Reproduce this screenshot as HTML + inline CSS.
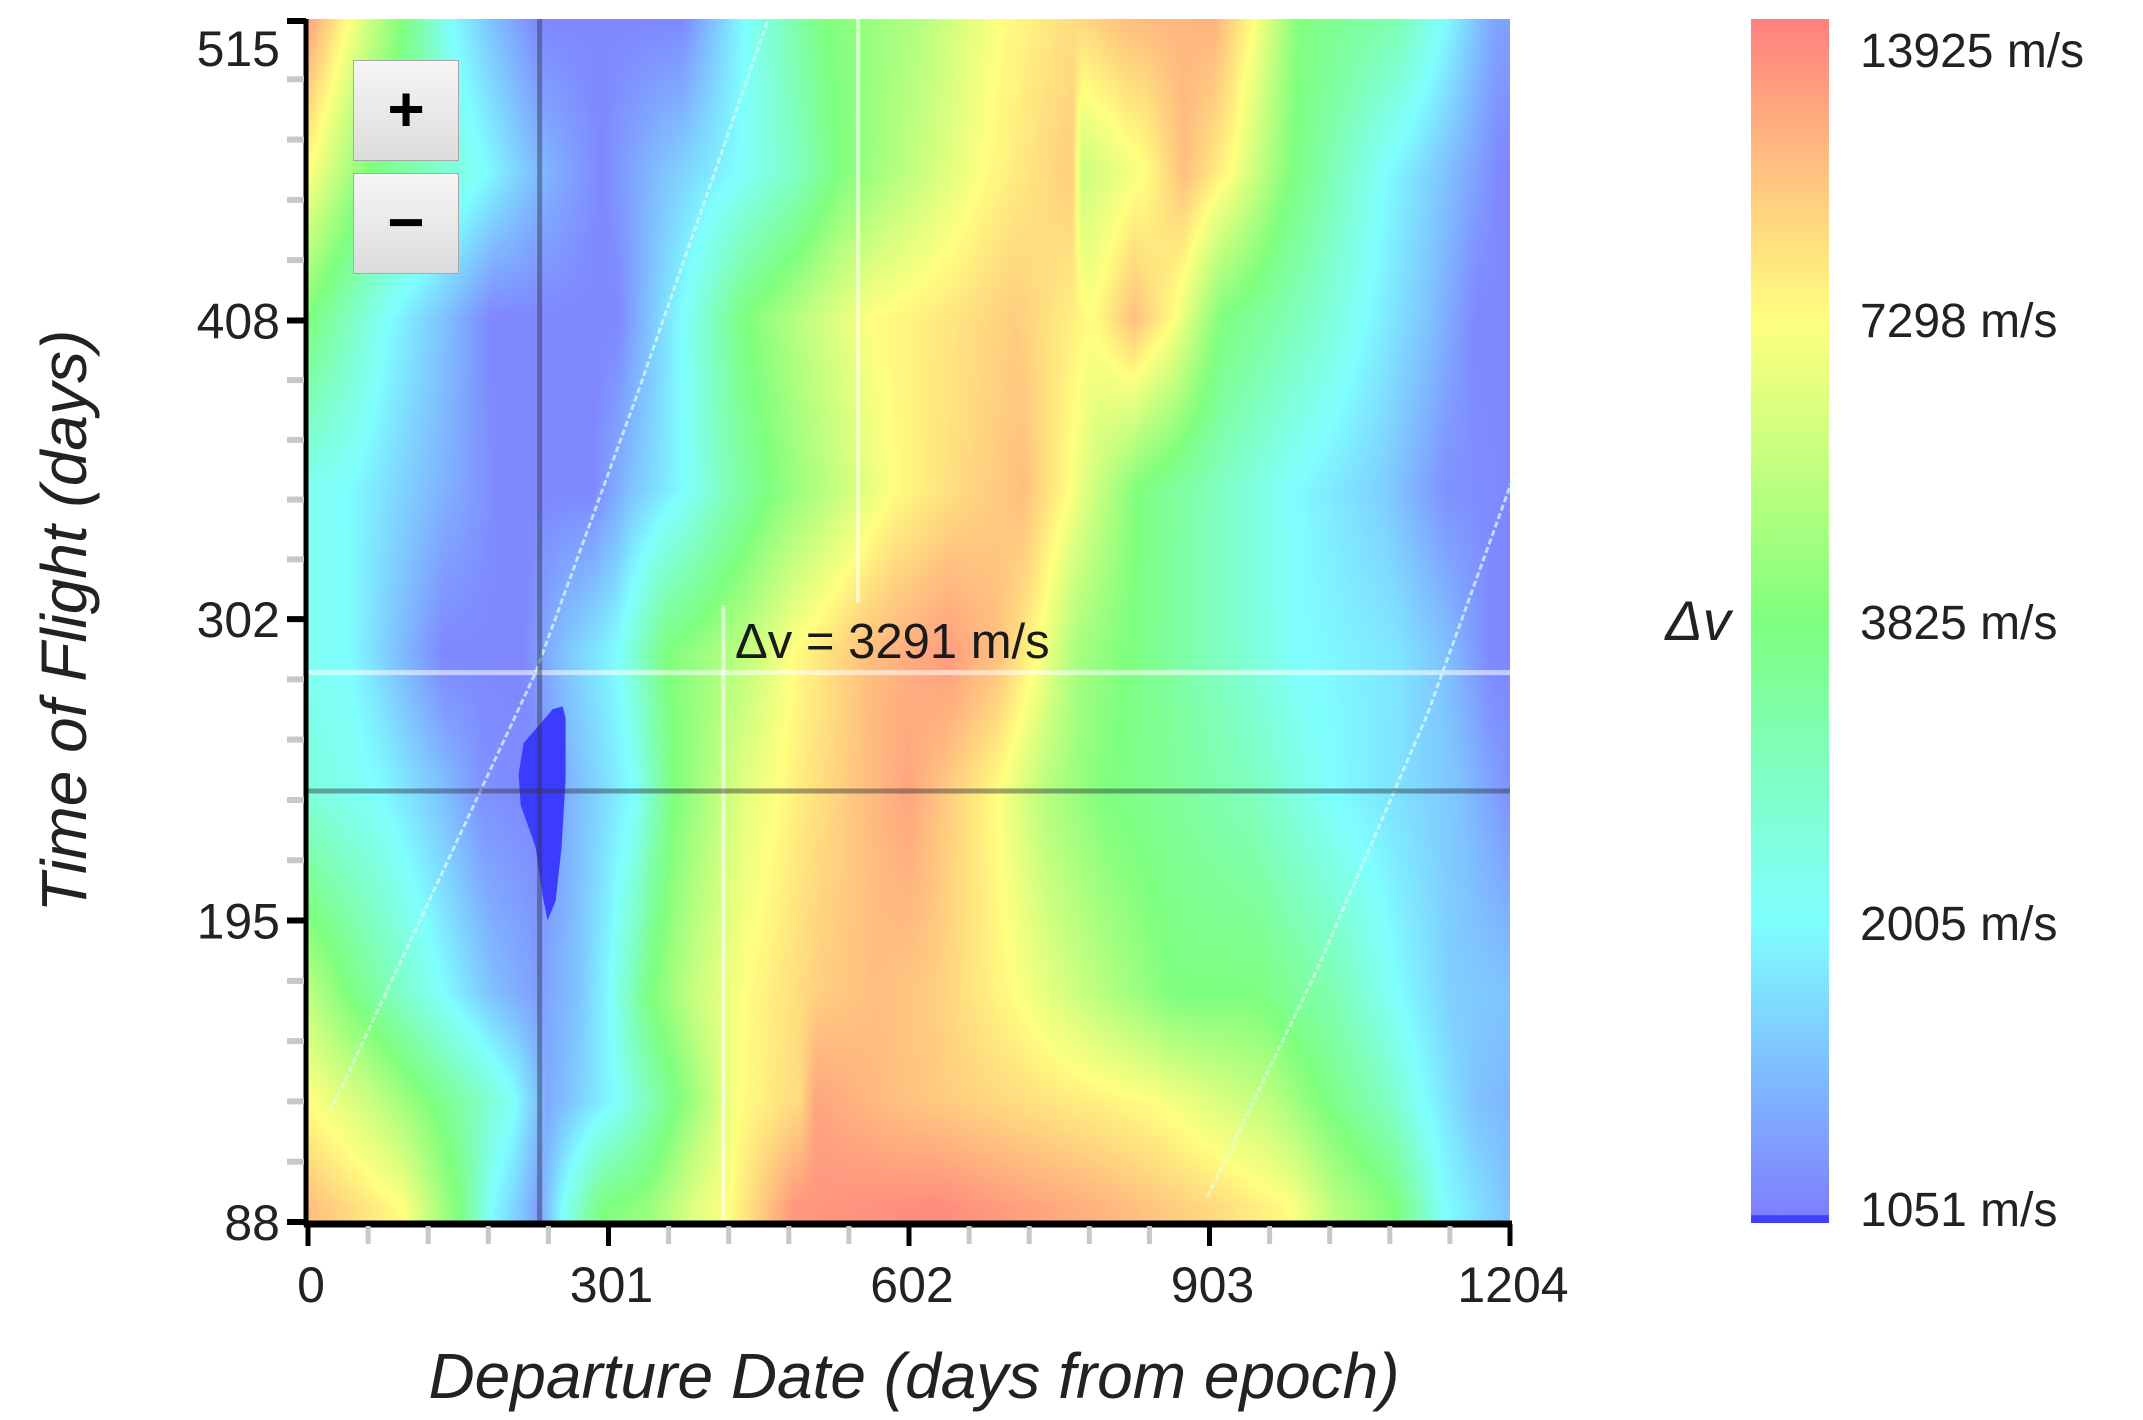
<!DOCTYPE html>
<html><head><meta charset="utf-8"><style>
html,body{margin:0;padding:0;background:#fff;}
#wrap{position:relative;width:2143px;height:1420px;overflow:hidden;font-family:"Liberation Sans",sans-serif;}
#heat{position:absolute;left:308px;top:19px;}
svg{position:absolute;left:0;top:0;}
.zbtn{position:absolute;left:353px;width:106px;height:101px;box-sizing:border-box;border:1.5px solid #a8a8a8;background:linear-gradient(#f6f6f6,#dcdcdc);font:bold 64px "Liberation Sans",sans-serif;color:#000;text-align:center;line-height:96px;}
#cbar{position:absolute;left:1751px;top:19px;width:78px;height:1204px;background:linear-gradient(to bottom,#ff7f7f 0%,#ffbf7f 12%,#ffff7f 25%,#bfff7f 38%,#7fff7f 50%,#7fffbf 62%,#7fffff 75%,#7fbfff 87%,#7f7fff 99.3%,#4040ff 99.4%,#4040ff 100%);}
</style></head><body>
<div id="wrap">
<canvas id="heat" width="1202" height="1203"></canvas>
<svg id="ov" width="2143" height="1420"></svg>
<div class="zbtn" style="top:60px">+</div>
<div class="zbtn" style="top:173px">−</div>
<div id="cbar"></div>
</div>
<script>
// ---- data ----
const tofRows = [515, 461, 409, 348, 290, 239, 169, 131, 93];
const dep515 = [0,40,95,143,183,230,374,437,517,612,692,772,819,907,947,994,1090,1138,1185,1204];
const dv515  = [11490,7298,3825,2005,1480,1100,1100,2005,3825,5000,7298,8810,10080,10760,7298,3825,2960,2005,1300,1230];
const dep461 = [0,62,177,223,293,354,431,493,531,600,677,739,765,775,839,877,924,985,1078,1139,1193,1204];
const dv461  = [7298,3825,2005,1480,1100,1480,2005,2770,3825,5280,7298,8810,9400,5640,7298,10080,7298,3825,2005,1480,1100,1100];
const dep409 = [0,40,80,135,183,310,334,374,437,509,565,644,708,748,787,827,867,915,994,1058,1122,1170,1204];
const dv409  = [3825,2770,2005,1480,1100,1100,1380,2005,3825,5640,7298,8280,9400,8280,7298,10080,7298,3825,2770,2005,1480,1100,1100];
const dep348 = [0,38,115,192,285,323,377,416,462,523,585,654,716,762,831,908,985,1078,1139,1204];
const dv348  = [2140,2005,1480,1100,1100,1480,2005,2770,3825,5280,7298,8810,10080,7298,3825,2770,2005,1570,1160,1100];
const dep290 = [0,40,87,135,215,255,310,358,437,485,560,640,690,730,770,819,907,994,1090,1138,1185,1204];
const dv290  = [2140,2005,1480,1100,1100,1480,2005,3825,5280,7298,10080,12000,10080,7298,4670,3825,2770,2005,1770,1480,1100,1100];
const dep239 = [0,72,135,175,230,262,326,366,437,501,560,600,640,690,740,800,867,947,1026,1106,1154,1204];
const dv239  = [2430,2005,1480,1160,1100,1380,2005,3825,6420,8280,10080,11490,9400,7298,5000,3825,3360,2770,2005,1670,1480,1160];
const dep169 = [0,40,87,135,183,230,270,302,342,390,437,516,570,625,708,788,867,947,1026,1090,1146,1204];
const dv169  = [5280,3825,2770,2005,1480,1230,1480,2005,3825,5640,7298,9400,10080,9400,7298,5280,3825,3825,2960,2005,1570,1480];
const dep131 = [0,62,123,169,208,239,269,308,370,431,493,508,585,693,847,962,1016,1078,1116,1170,1204];
const dv131  = [7298,5640,3825,2770,2005,1300,1570,2005,3825,7298,8810,11490,10080,8810,7298,5280,3825,2770,2005,1480,1380];
const dep93  = [0,40,95,151,183,215,230,254,294,342,390,422,453,485,628,787,907,986,1026,1090,1138,1204];
const dv93   = [10080,8810,7298,3825,2005,1480,1230,2005,3825,4370,6420,7298,9400,12270,13100,10760,8810,7298,5280,3825,2005,1480];
const xTicks = [0,301,602,903,1204];
const yTicks = [88,195,302,408,515];
const cbarLabels = ["13925 m/s","7298 m/s","3825 m/s","2005 m/s","1051 m/s"];
const cbarStops = [1051,2005,3825,7298,13925];
const minRegionDep = [255,258,258,254,248,240,235,228,213,211,216,233,245];
const minRegionTof = [271,267,245,221,202,195,204,221,236,247,258,265,270];
const streakA = [[22,127],[120,201],[228,283],[330,382],[461,515]];
const streakB = [[901,97],[1010,177],[1121,268],[1209,354]];
const crossDep = 232, crossTof = 241, hoverDep = 416, hoverTof = 283, refDep = 551;
const hoverLabel = "Δv = 3291 m/s";

// ---- scales ----
const X0=308, X1=1510, Y88=1222, Y515=19;
const xS = d => X0 + d/1204*(X1-X0);
const yS = t => Y88 - (t-88)/(515-88)*(Y88-Y515);
const dFromX = x => (x-X0)/(X1-X0)*1204;
const tFromY = y => 88 + (Y88-y)/(Y88-Y515)*(515-88);

// ---- heatmap ----
const rowsDep=[dep515,dep461,dep409,dep348,dep290,dep239,dep169,dep131,dep93];
const rowsDv=[dv515,dv461,dv409,dv348,dv290,dv239,dv169,dv131,dv93];
function rowVal(r,d){
  const D=rowsDep[r],V=rowsDv[r];
  if(d<=D[0]) return Math.log(V[0]);
  for(let i=1;i<D.length;i++){ if(d<=D[i]){const f=(d-D[i-1])/(D[i]-D[i-1]);return Math.log(V[i-1])*(1-f)+Math.log(V[i])*f;} }
  return Math.log(V[V.length-1]);
}
const cols=[[127,127,255],[127,255,255],[127,255,127],[255,255,127],[255,127,127]];
function color(lv){
  const L=cbarStops.map(Math.log);
  let k;
  if(lv<=L[0]) return cols[0];
  if(lv>=L[4]) return cols[4];
  for(k=0;k<4;k++) if(lv<=L[k+1]) break;
  const f=(lv-L[k])/(L[k+1]-L[k]);
  return [0,1,2].map(i=>cols[k][i]*(1-f)+cols[k+1][i]*f);
}
(function(){
  const cv=document.getElementById('heat'),ctx=cv.getContext('2d');
  const W=cv.width,H=cv.height,img=ctx.createImageData(W,H);
  const n=tofRows.length,rowCache=[];
  for(let x=0;x<W;x++){const d=dFromX(X0+x);rowCache.push(tofRows.map((_,r)=>rowVal(r,d)));}
  for(let y=0;y<H;y++){
    const t=tFromY(19+y);
    let r0,r1,f;
    if(t>=tofRows[0]){r0=r1=0;f=0;}
    else if(t<=tofRows[n-1]){r0=r1=n-1;f=0;}
    else{for(r0=0;r0<n-1;r0++) if(t>=tofRows[r0+1]) break; r1=r0+1; f=(tofRows[r0]-t)/(tofRows[r0]-tofRows[r1]);}
    for(let x=0;x<W;x++){
      const rc=rowCache[x],lv=rc[r0]*(1-f)+rc[r1]*f,c=color(lv),p=(y*W+x)*4;
      img.data[p]=c[0];img.data[p+1]=c[1];img.data[p+2]=c[2];img.data[p+3]=255;
    }
  }
  ctx.putImageData(img,0,0);
})();

// ---- overlay ----
const NS="http://www.w3.org/2000/svg", svg=document.getElementById('ov');
function mk(tag,attrs,parent){const e=document.createElementNS(NS,tag);for(const k in attrs)e.setAttribute(k,attrs[k]);(parent||svg).appendChild(e);return e;}

const mr=mk('polygon',{points:minRegionDep.map((d,i)=>xS(d)+','+yS(minRegionTof[i])).join(' '),fill:'#3c3cff'});


[streakA,streakB].forEach((s,i)=>{
  const pl=mk('polyline',{points:s.map(p=>xS(p[0])+','+yS(p[1])).join(' '),fill:'none',stroke:'#dfffef',"stroke-width":3,"stroke-dasharray":'6 3',opacity:0.7});
  
  
});
let l;
l=mk('line',{x1:xS(refDep),x2:xS(refDep),y1:19,y2:603,stroke:'#ffffff',"stroke-width":4,opacity:0.6});


l=mk('line',{x1:xS(hoverDep),x2:xS(hoverDep),y1:605,y2:1222,stroke:'#ffffff',"stroke-width":4,opacity:0.6});


l=mk('line',{x1:X0,x2:X1,y1:yS(hoverTof),y2:yS(hoverTof),stroke:'#ffffff',"stroke-width":5,opacity:0.55});


l=mk('line',{x1:xS(crossDep),x2:xS(crossDep),y1:19,y2:1222,stroke:'#334',"stroke-width":5,opacity:0.45});


l=mk('line',{x1:X0,x2:X1,y1:yS(crossTof),y2:yS(crossTof),stroke:'#334',"stroke-width":5,opacity:0.45});


let tx=mk('text',{x:735,y:658,"font-size":49,fill:'#1a1a1a'});tx.textContent=hoverLabel;



l=mk('line',{x1:306,x2:306,y1:19,y2:1226,stroke:'#000',"stroke-width":5});


l=mk('line',{x1:304,x2:X1+2,y1:1224,y2:1224,stroke:'#000',"stroke-width":7});


for(let i=0;i<yTicks.length;i++){
  const y=yS(yTicks[i]);
  const t=mk('line',{x1:287,x2:306,y1:Math.max(y,21),y2:Math.max(y,21),stroke:'#000',"stroke-width":6});
  
  
  const lb=mk('text',{x:280,y:Math.max(y+18,66),"font-size":50,"text-anchor":'end',fill:'#222'});lb.textContent=yTicks[i];
  
  
  if(i<yTicks.length-1){for(let k=1;k<5;k++){const v=yTicks[i]+(yTicks[i+1]-yTicks[i])*k/5,yy=yS(v);
    const m=mk('line',{x1:287,x2:304,y1:yy,y2:yy,stroke:'#c8c8c8',"stroke-width":6});
    
    }}
}
for(let i=0;i<xTicks.length;i++){
  const x=xS(xTicks[i]);
  const t=mk('line',{x1:x,x2:x,y1:1224,y2:1246,stroke:'#000',"stroke-width":5});
  
  
  const lb=mk('text',{x:x+3,y:1302,"font-size":50,"text-anchor":'middle',fill:'#222'});lb.textContent=xTicks[i];
  
  
  if(i<xTicks.length-1){for(let k=1;k<5;k++){const xx=xS(xTicks[i]+(xTicks[i+1]-xTicks[i])*k/5);
    const m=mk('line',{x1:xx,x2:xx,y1:1226,y2:1244,stroke:'#c8c8c8',"stroke-width":5});
    
    }}
}
tx=mk('text',{x:914,y:1398,"font-size":64,"font-style":'italic',"text-anchor":'middle',fill:'#222'});tx.textContent='Departure Date (days from epoch)';


tx=mk('text',{x:0,y:0,"font-size":64,"font-style":'italic',"text-anchor":'middle',fill:'#222',transform:'translate(86,621) rotate(-90)'});tx.textContent='Time of Flight (days)';


const cbY=[49,319,621,922,1208];
for(let i=0;i<cbarLabels.length;i++){
  const lb=mk('text',{x:1860,y:cbY[i]+18,"font-size":48,fill:'#222'});lb.textContent=cbarLabels[i];
  
  
}
tx=mk('text',{x:1698,y:640,"font-size":56,"font-style":'italic',"text-anchor":'middle',fill:'#222'});tx.textContent='Δv';


</script>
</body></html>
